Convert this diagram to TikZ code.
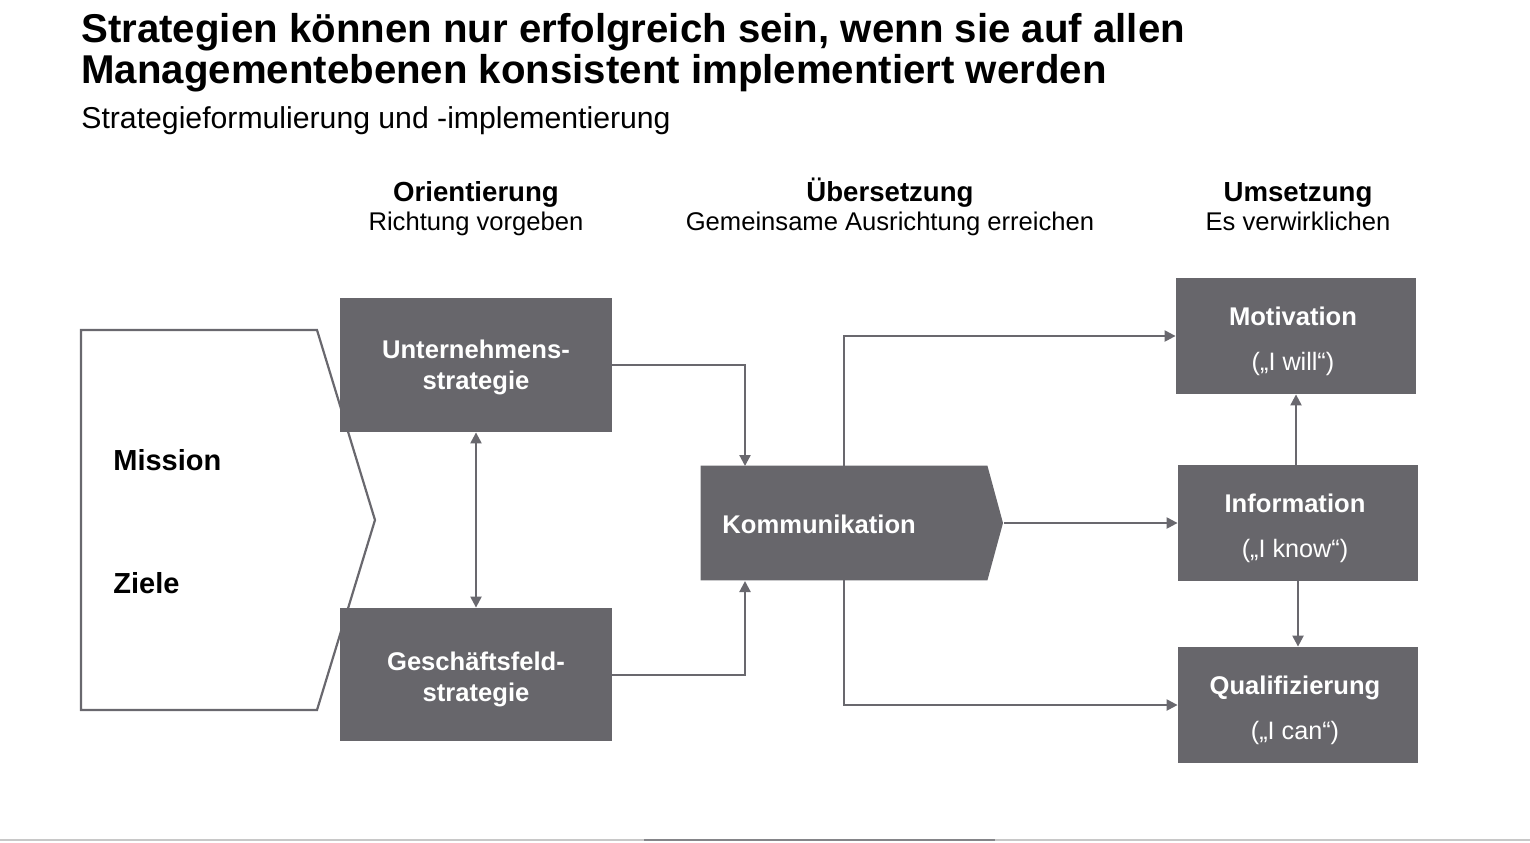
\documentclass[tikz,border=0pt]{standalone}
\usepackage{fontspec}
\setmainfont{Liberation Sans}
\usetikzlibrary{arrows.meta}
\definecolor{boxgrey}{RGB}{103,102,107}
\definecolor{linegrey}{RGB}{105,104,110}
\definecolor{rulegrey}{RGB}{200,200,200}
\tikzset{
  box/.style={fill=boxgrey, draw=none, inner sep=0pt},
  btxt/.style={text=white, font=\fontsize{12.8pt}{14pt}\selectfont\bfseries, anchor=base, inner sep=0pt},
  rtxt/.style={text=white, font=\fontsize{12.6pt}{14pt}\selectfont, anchor=base, inner sep=0pt},
  hbold/.style={font=\fontsize{13.8pt}{15pt}\selectfont\bfseries, anchor=base, inner sep=0pt},
  hreg/.style={font=\fontsize{12.8pt}{14pt}\selectfont, anchor=base, inner sep=0pt},
  conn/.style={draw=linegrey, line width=1.1pt},
  arr/.style={conn, -{Triangle[length=5.5pt,width=5.5pt]}},
  darr/.style={conn, {Triangle[length=5.5pt,width=5.5pt]}-{Triangle[length=5.5pt,width=5.5pt]}},
}
\begin{document}
\begin{tikzpicture}[x=0.5pt,y=-0.5pt]
\useasboundingbox (0,0) rectangle (1530,842);
% bottom rule
\draw[rulegrey, line width=1.2pt] (0,840) -- (1530,840);
\draw[boxgrey!80, line width=1.2pt] (644,840) -- (995,840);
% title
\node[anchor=base west, inner sep=0pt, font=\fontsize{20.1pt}{21pt}\selectfont\bfseries] (t1) at (81,42) {Strategien können nur erfolgreich sein, wenn sie auf allen};
\node[anchor=base west, inner sep=0pt, font=\fontsize{20.1pt}{21pt}\selectfont\bfseries] (t2) at (81,83) {Managementebenen konsistent implementiert werden};
\node[anchor=base west, inner sep=0pt, font=\fontsize{15.1pt}{17pt}\selectfont] (st) at (81,128) {Strategieformulierung und -implementierung};
% headers
\node[hbold] (h1) at (476,201) {Orientierung};
\node[hreg] (h1b) at (476,230) {Richtung vorgeben};
\node[hbold] (h2) at (890,201) {Übersetzung};
\node[hreg] (h2b) at (890,230) {Gemeinsame Ausrichtung erreichen};
\node[hbold] (h3) at (1298,201) {Umsetzung};
\node[hreg] (h3b) at (1298,230) {Es verwirklichen};
% mission shape
\draw[draw=linegrey, line width=1.1pt, fill=white] (81,330) -- (317,330) -- (375,520) -- (317,710) -- (81,710) -- cycle;
\node[anchor=base west, inner sep=0pt, font=\fontsize{14.5pt}{16pt}\selectfont\bfseries] (mis) at (113,470) {Mission};
\node[anchor=base west, inner sep=0pt, font=\fontsize{14.5pt}{16pt}\selectfont\bfseries] (zie) at (113,593) {Ziele};
% strategy boxes
\node[box, minimum width=136pt, minimum height=67pt] (unt) at (476,365) {};
\node[btxt] (unt1) at (476,358) {Unternehmens-};
\node[btxt] (unt2) at (476,389) {strategie};
\node[box, minimum width=136pt, minimum height=66.5pt] (gf) at (476,674.5) {};
\node[btxt] (gf1) at (476,670) {Geschäftsfeld-};
\node[btxt] (gf2) at (476,701) {strategie};
% Kommunikation
\node[inner sep=0pt, minimum width=143pt, minimum height=57pt] (komm) at (844,523) {};
\fill[boxgrey] (komm.north west) -- (komm.north east) -- (1003,523) -- (komm.south east) -- (komm.south west) -- cycle;
\coordinate (ktip) at (1004,523);
\node[btxt, anchor=base west] (kt) at (722,533) {Kommunikation};
% right boxes
\node[box, minimum width=120pt, minimum height=58pt] (mot) at (1296,336) {};
\node[btxt] (mot1) at (1293,325) {Motivation};
\node[rtxt] (mot2) at (1293,370) {(„I will“)};
\node[box, minimum width=120pt, minimum height=58pt] (inf) at (1298,523) {};
\node[btxt] (inf1) at (1295,512) {Information};
\node[rtxt] (inf2) at (1295,557) {(„I know“)};
\node[box, minimum width=120pt, minimum height=58pt] (qua) at (1298,705) {};
\node[btxt] (qua1) at (1295,694) {Qualifizierung};
\node[rtxt] (qua2) at (1295,739) {(„I can“)};
% connectors
\coordinate (kin1) at (745,466);
\coordinate (kin2) at (745,581);
\draw[arr] (unt.east |- 0,365) -| (kin1);
\draw[arr] (gf.east |- 0,675) -| (kin2);
\draw[darr] (unt.south) -- (gf.north);
\draw[arr] (komm.north) |- (mot.west);
\draw[arr] (komm.south) |- (qua.west);
\draw[arr] (ktip) -- (inf.west);
\draw[arr] (mot.south |- inf.north) -- (mot.south);
\draw[arr] (inf.south) -- (qua.north);
\end{tikzpicture}
\end{document}
